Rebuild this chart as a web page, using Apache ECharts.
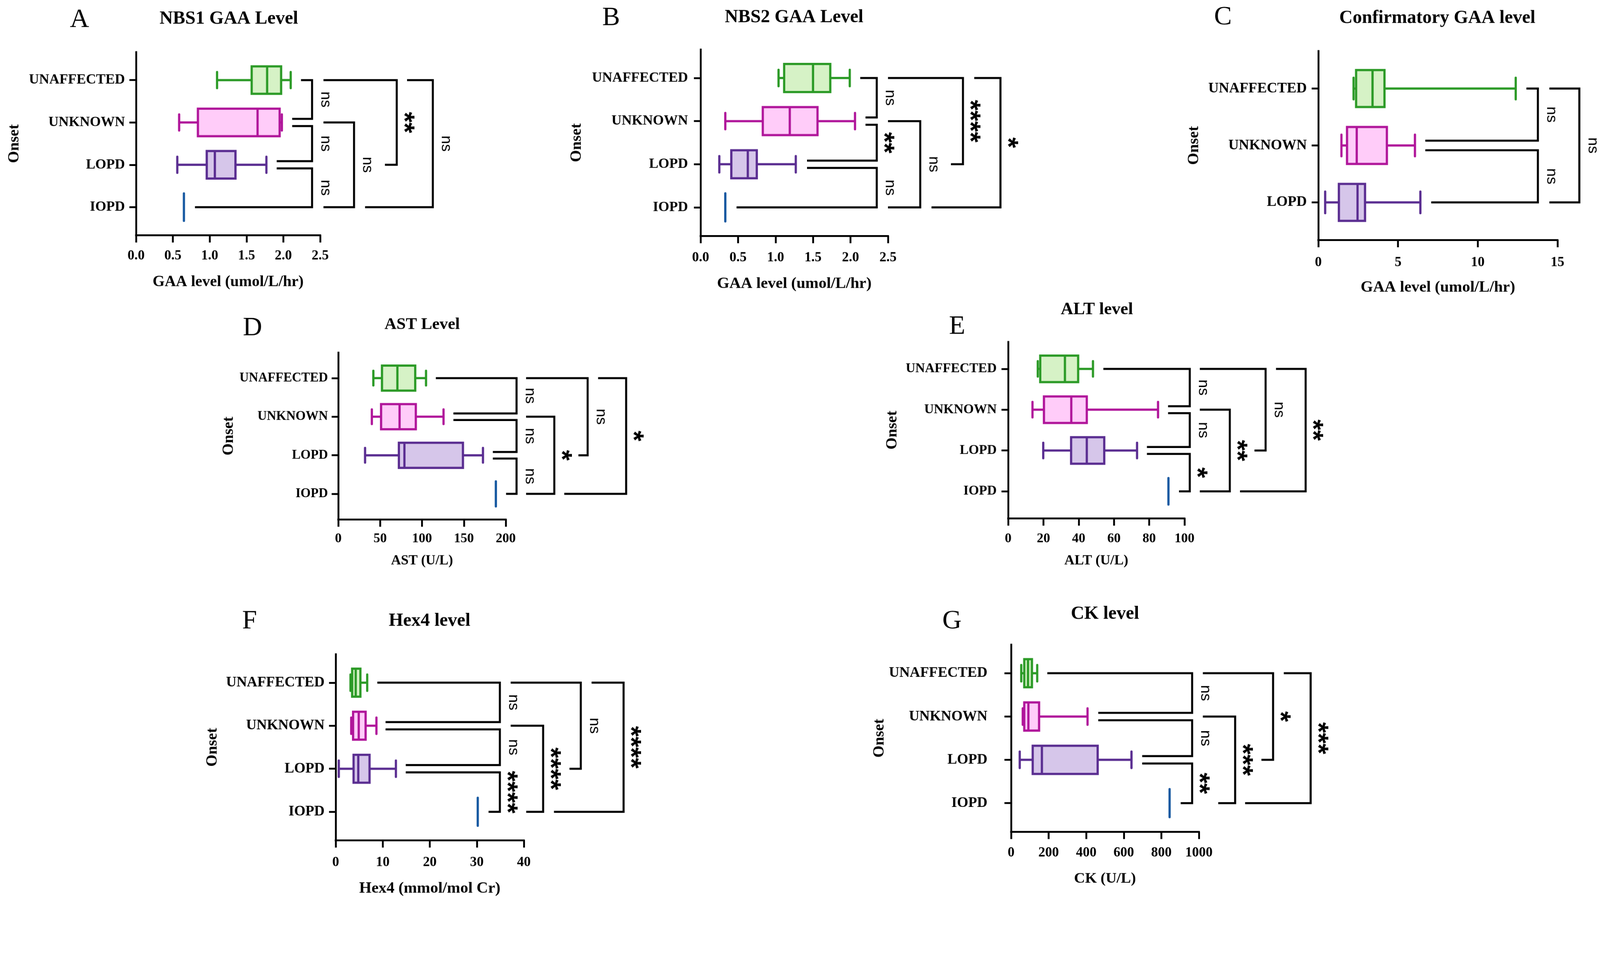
<!DOCTYPE html>
<html><head><meta charset="utf-8">
<script src="https://cdn.jsdelivr.net/npm/echarts@6/dist/echarts.min.js"></script>
<style>html,body{margin:0;padding:0;background:#fff;overflow:hidden}#c{width:4328px;height:2440px;transform-origin:0 0}</style>
</head><body><div id="c"></div>
<script>
// ---------- DATA ----------
const cats4 = ['UNAFFECTED', 'UNKNOWN', 'LOPD', 'IOPD'];
const cats3 = ['UNAFFECTED', 'UNKNOWN', 'LOPD'];

const titles = ['NBS1 GAA Level', 'NBS2 GAA Level', 'Confirmatory GAA level', 'AST Level', 'ALT level', 'Hex4 level', 'CK level'];
const letters = ['A', 'B', 'C', 'D', 'E', 'F', 'G'];
const xNames = ['GAA level (umol/L/hr)', 'GAA level (umol/L/hr)', 'GAA level (umol/L/hr)', 'AST (U/L)', 'ALT (U/L)', 'Hex4 (mmol/mol Cr)', 'CK (U/L)'];
const yName = 'Onset';

// x-axis ticks per panel
const ticksA = [0, 0.5, 1.0, 1.5, 2.0, 2.5];
const ticksB = [0, 0.5, 1.0, 1.5, 2.0, 2.5];
const ticksC = [0, 5, 10, 15];
const ticksD = [0, 50, 100, 150, 200];
const ticksE = [0, 20, 40, 60, 80, 100];
const ticksF = [0, 10, 20, 30, 40];
const ticksG = [0, 200, 400, 600, 800, 1000];

// box stats per category: [min, Q1, median, Q3, max]
const statsA = [[1.10, 1.57, 1.78, 1.97, 2.10], [0.585, 0.84, 1.65, 1.95, 1.98], [0.56, 0.96, 1.07, 1.35, 1.77], [0.65, 0.65, 0.65, 0.65, 0.65]];
const statsB = [[1.04, 1.115, 1.50, 1.73, 1.99], [0.33, 0.83, 1.19, 1.56, 2.06], [0.25, 0.41, 0.63, 0.75, 1.27], [0.33, 0.33, 0.33, 0.33, 0.33]];
const statsC = [[2.21, 2.37, 3.40, 4.15, 12.38], [1.45, 1.80, 2.41, 4.30, 6.06], [0.43, 1.29, 2.46, 2.93, 6.40]];
const statsD = [[41.9, 52.2, 70.6, 91.9, 104.8], [40.1, 51.1, 73.2, 92.6, 125.7], [32, 72.4, 79, 148.9, 172.8], [188.2, 188.2, 188.2, 188.2, 188.2]];
const statsE = [[16.8, 18.2, 32.2, 39.7, 48.1], [13.8, 20.3, 35.8, 44.6, 85], [19.9, 35.7, 44.6, 54.5, 73.1], [90.9, 90.9, 90.9, 90.9, 90.9]];
const statsF = [[3.15, 3.5, 4.26, 5.25, 6.7], [3.3, 3.7, 4.9, 6.36, 8.66], [0.66, 3.8, 4.8, 7.2, 12.8], [30.2, 30.2, 30.2, 30.2, 30.2]];
const statsG = [[54, 70, 90, 111, 139], [62, 70, 92, 149, 407], [46, 115, 164, 461, 641], [844, 844, 844, 844, 844]];

// significance brackets: [rowTop, splitTop, armStartTop, rowBottom, splitBottom, armStartBottom, xVertical]
const bracketsA = [[0, 0, 2.24, 1, -1, 2.12, 2.39], [1, 1, 2.12, 2, -1, 1.91, 2.39], [2, 1, 1.91, 3, 0, 0.80, 2.39], [1, 0, 2.545, 3, 0, 2.545, 2.96], [0, 0, 2.545, 2, 0, 3.38, 3.54], [0, 0, 3.68, 3, 0, 3.11, 4.03]];
const sigA = ['ns', 'ns', 'ns', 'ns', '**', 'ns'];
const bracketsB = [[0, 0, 2.13, 1, -1, 2.20, 2.35], [1, 1, 2.20, 2, -1, 1.42, 2.35], [2, 1, 1.42, 3, 0, 0.48, 2.35], [1, 0, 2.50, 3, 0, 2.50, 2.93], [0, 0, 2.50, 2, 0, 3.34, 3.50], [0, 0, 3.65, 3, 0, 3.08, 4.00]];
const sigB = ['ns', '**', 'ns', 'ns', '****', '*'];
const bracketsC = [[0, 0, 13.05, 1, -1, 6.71, 13.77], [1, 1, 6.71, 2, 0, 7.08, 13.77], [0, 0, 14.49, 2, 0, 14.49, 16.37]];
const sigC = ['ns', 'ns', 'ns'];
const bracketsD = [[0, 0, 116.5, 1, -1, 137.5, 212.9], [1, 1, 137.5, 2, -1, 184.6, 212.9], [2, 1, 184.6, 3, 0, 200.4, 212.9], [1, 0, 224.3, 3, 0, 224.3, 258], [0, 0, 224.3, 2, 0, 286.8, 297.8], [0, 0, 310.3, 3, 0, 269.9, 343.8]];
const sigD = ['ns', 'ns', 'ns', '*', 'ns', '*'];
const bracketsE = [[0, 0, 54, 1, -1, 90.7, 103], [1, 1, 90.7, 2, -1, 78.7, 103], [2, 1, 78.7, 3, 0, 96.9, 103], [1, 0, 108.7, 3, 0, 108.7, 125.7], [0, 0, 108.7, 2, 0, 139.7, 146], [0, 0, 151.9, 3, 0, 131.5, 168.7]];
const sigE = ['ns', 'ns', '*', '**', 'ns', '**'];
const bracketsF = [[0, 0, 8.85, 1, -1, 10.6, 34.9], [1, 1, 10.6, 2, -1, 14.9, 34.9], [2, 1, 14.9, 3, 0, 32.5, 34.9], [1, 0, 37.2, 3, 0, 40.5, 44.1], [0, 0, 37.2, 2, 0, 49.7, 52.1], [0, 0, 54.4, 3, 0, 46.4, 61.2]];
const sigF = ['ns', 'ns', '****', '****', 'ns', '****'];
const bracketsG = [[0, 0, 193, 1, -1, 464, 964], [1, 1, 464, 2, -1, 698, 964], [2, 1, 698, 3, 0, 903, 964], [1, 0, 1021, 3, 0, 1103, 1193], [0, 0, 1021, 2, 0, 1333, 1395], [0, 0, 1452, 3, 0, 1246, 1595]];
const sigG = ['ns', 'ns', '**', '***', '*', '***'];

// ---------- LAYOUT / STYLE ----------
const panels = [
  { cats: cats4, stats: statsA, ticks: ticksA, dec: 1, br: bracketsA, sig: sigA, g: [368, 141, 498, 495], t: [619, 51, 50], l: [215, 54], catFs: 38, catM: 30, tickFs: 37, tickM: 38, nameFs: 42, nameGap: 106, onsetGap: 308 },
  { cats: cats4, stats: statsB, ticks: ticksB, dec: 1, br: bracketsB, sig: sigB, g: [1895, 134, 507, 504], t: [2148, 47, 50], l: [1653, 49], catFs: 38, catM: 34, tickFs: 37, tickM: 41, nameFs: 43, nameGap: 108, onsetGap: 314 },
  { cats: cats3, stats: statsC, ticks: ticksC, dec: 0, br: bracketsC, sig: sigC, g: [3566, 138, 647, 511], t: [3888, 49, 50], l: [3308, 47], catFs: 39, catM: 31, tickFs: 37, tickM: 43, nameFs: 43, nameGap: 107, onsetGap: 315 },
  { cats: cats4, stats: statsD, ticks: ticksD, dec: 0, br: bracketsD, sig: sigD, g: [915, 954, 453, 451], t: [1142, 878, 45], l: [683, 888], catFs: 35, catM: 28, tickFs: 36, tickM: 35, nameFs: 37, nameGap: 94, onsetGap: 275 },
  { cats: cats4, stats: statsE, ticks: ticksE, dec: 0, br: bracketsE, sig: sigE, g: [2727, 925, 477, 477], t: [2967, 838, 47], l: [2589, 884], catFs: 36, catM: 31, tickFs: 36, tickM: 38, nameFs: 38, nameGap: 96, onsetGap: 292 },
  { cats: cats4, stats: statsF, ticks: ticksF, dec: 0, br: bracketsF, sig: sigF, g: [908, 1770, 509, 503], t: [1162, 1680, 50], l: [675, 1681], catFs: 39, catM: 30, tickFs: 37, tickM: 42, nameFs: 43, nameGap: 109, onsetGap: 312 },
  { cats: cats4, stats: statsG, ticks: ticksG, dec: 0, br: bracketsG, sig: sigG, g: [2735, 1744, 508, 506], t: [2989, 1661, 50], l: [2575, 1681], catFs: 39, catM: 64, tickFs: 37, tickM: 39, nameFs: 41, nameGap: 107, onsetGap: 312 }
];

const STROKE = ['#2b9a26', '#b0159a', '#5a2d91', '#1457a0'];
const FILL = ['#d6f2c6', '#ffccf9', '#d6c6ea', '#1457a0'];
const SERIF = '"Liberation Serif", "DejaVu Serif", serif';
const SANS = '"Liberation Sans", Arial, sans-serif';
const MARGIN = 0.66, BOX_H = 0.325, CAP_H = 0.19, SPLIT = 0.085;

const grids = [], xAxes = [], yAxes = [], series = [], graphics = [];

panels.forEach((p, i) => {
  const n = p.cats.length;
  const rows = p.cats.map((c, k) => k);
  grids.push({ left: p.g[0], top: p.g[1], width: p.g[2], height: p.g[3], containLabel: false });
  xAxes.push({
    gridIndex: i, type: 'value', min: p.ticks[0], max: p.ticks[p.ticks.length - 1],
    interval: p.ticks[1] - p.ticks[0], position: 'bottom',
    name: xNames[i], nameLocation: 'middle', nameGap: p.nameGap,
    nameTextStyle: { fontFamily: SERIF, fontWeight: 'bold', fontSize: p.nameFs, color: '#000' },
    axisLine: { show: true, onZero: false, lineStyle: { color: '#000', width: 5, cap: 'square' } },
    axisTick: { show: true, length: 20, lineStyle: { color: '#000', width: 5 } },
    axisLabel: { margin: p.tickM, fontFamily: SERIF, fontWeight: 'bold', fontSize: p.tickFs, color: '#000',
      showMinLabel: true, showMaxLabel: true, formatter: v => Number(v).toFixed(p.dec) },
    splitLine: { show: false }
  });
  yAxes.push({
    gridIndex: i, type: 'value', inverse: true, min: -MARGIN, max: n - 1 + MARGIN, position: 'left',
    name: yName, nameLocation: 'middle', nameRotate: 90, nameGap: p.onsetGap,
    nameTextStyle: { fontFamily: SERIF, fontWeight: 'bold', fontSize: 42, color: '#000' },
    axisLine: { show: true, onZero: false, lineStyle: { color: '#000', width: 5, cap: 'square' } },
    axisTick: { show: true, length: 18, customValues: rows, lineStyle: { color: '#000', width: 5 } },
    axisLabel: { customValues: rows, margin: p.catM, fontFamily: SERIF, fontWeight: 'bold', fontSize: p.catFs, color: '#000',
      formatter: v => p.cats[Math.round(v)] || '' },
    splitLine: { show: false }
  });

  // box plots
  series.push({
    type: 'custom', xAxisIndex: i, yAxisIndex: i, clip: false, silent: true,
    data: p.stats.map((s, k) => [k].concat(s)),
    renderItem: function (params, api) {
      const row = api.value(0);
      const mn = api.value(1), q1 = api.value(2), md = api.value(3), q3 = api.value(4), mx = api.value(5);
      const h = api.size([0, 1])[1];
      const yc = api.coord([0, row])[1];
      const X = v => api.coord([v, row])[0];
      const sc = STROKE[row], fc = FILL[row];
      const lw = 6;
      if (mn === mx) {
        return { type: 'line', shape: { x1: X(mn), y1: yc - BOX_H * h, x2: X(mn), y2: yc + BOX_H * h },
          style: { stroke: sc, lineWidth: lw, lineCap: 'round' } };
      }
      const ch = [];
      ch.push({ type: 'line', shape: { x1: X(mn), y1: yc, x2: X(q1), y2: yc }, style: { stroke: sc, lineWidth: lw } });
      ch.push({ type: 'line', shape: { x1: X(q3), y1: yc, x2: X(mx), y2: yc }, style: { stroke: sc, lineWidth: lw } });
      ch.push({ type: 'line', shape: { x1: X(mn), y1: yc - CAP_H * h, x2: X(mn), y2: yc + CAP_H * h }, style: { stroke: sc, lineWidth: lw, lineCap: 'round' } });
      ch.push({ type: 'line', shape: { x1: X(mx), y1: yc - CAP_H * h, x2: X(mx), y2: yc + CAP_H * h }, style: { stroke: sc, lineWidth: lw, lineCap: 'round' } });
      ch.push({ type: 'rect', shape: { x: X(q1), y: yc - BOX_H * h, width: X(q3) - X(q1), height: 2 * BOX_H * h },
        style: { fill: fc, stroke: sc, lineWidth: lw } });
      ch.push({ type: 'line', shape: { x1: X(md), y1: yc - BOX_H * h, x2: X(md), y2: yc + BOX_H * h }, style: { stroke: sc, lineWidth: lw } });
      return { type: 'group', children: ch };
    }
  });

  // significance brackets
  series.push({
    type: 'custom', xAxisIndex: i, yAxisIndex: i, clip: false, silent: true,
    data: p.br,
    renderItem: function (params, api) {
      const b = p.br[params.dataIndex];
      const label = p.sig[params.dataIndex];
      const yT = b[0] + b[1] * SPLIT, yB = b[3] + b[4] * SPLIT;
      const pT0 = api.coord([b[2], yT]), pT1 = api.coord([b[6], yT]);
      const pB0 = api.coord([b[5], yB]), pB1 = api.coord([b[6], yB]);
      const ym = (pT1[1] + pB1[1]) / 2;
      const isStar = label.indexOf('*') >= 0;
      const ch = [{
        type: 'polyline', shape: { points: [pT0, pT1, pB1, pB0] },
        style: { stroke: '#000', lineWidth: 5.5, fill: null, lineJoin: 'miter' }
      }, {
        type: 'text', x: pT1[0] + (isStar ? 17 : 36), y: ym, rotation: -Math.PI / 2,
        style: { text: label, fill: '#000',
          font: isStar ? ('bold 74px ' + SANS) : ('41px ' + SANS),
          align: 'center', verticalAlign: 'middle', textAlign: 'center', textVerticalAlign: 'middle' }
      }];
      return { type: 'group', children: ch };
    }
  });

  graphics.push({ type: 'text', x: p.t[0], y: p.t[1],
    style: { text: titles[i], font: 'bold ' + p.t[2] + 'px ' + SERIF, fill: '#000', align: 'center', verticalAlign: 'middle', textAlign: 'center', textVerticalAlign: 'middle' } });
  graphics.push({ type: 'text', x: p.l[0], y: p.l[1],
    style: { text: letters[i], font: '72px ' + SERIF, fill: '#000', align: 'center', verticalAlign: 'middle', textAlign: 'center', textVerticalAlign: 'middle' } });
});

const el = document.getElementById('c');
const sc = Math.min(window.innerWidth / 4328, window.innerHeight / 2440);
if (sc > 0 && Math.abs(sc - 1) > 0.002) el.style.transform = 'scale(' + sc + ')';

const chart = echarts.init(el, null, { renderer: 'canvas' });
chart.setOption({
  backgroundColor: '#fff',
  animation: false,
  grid: grids, xAxis: xAxes, yAxis: yAxes, series: series,
  graphic: graphics
});
</script></body></html>
